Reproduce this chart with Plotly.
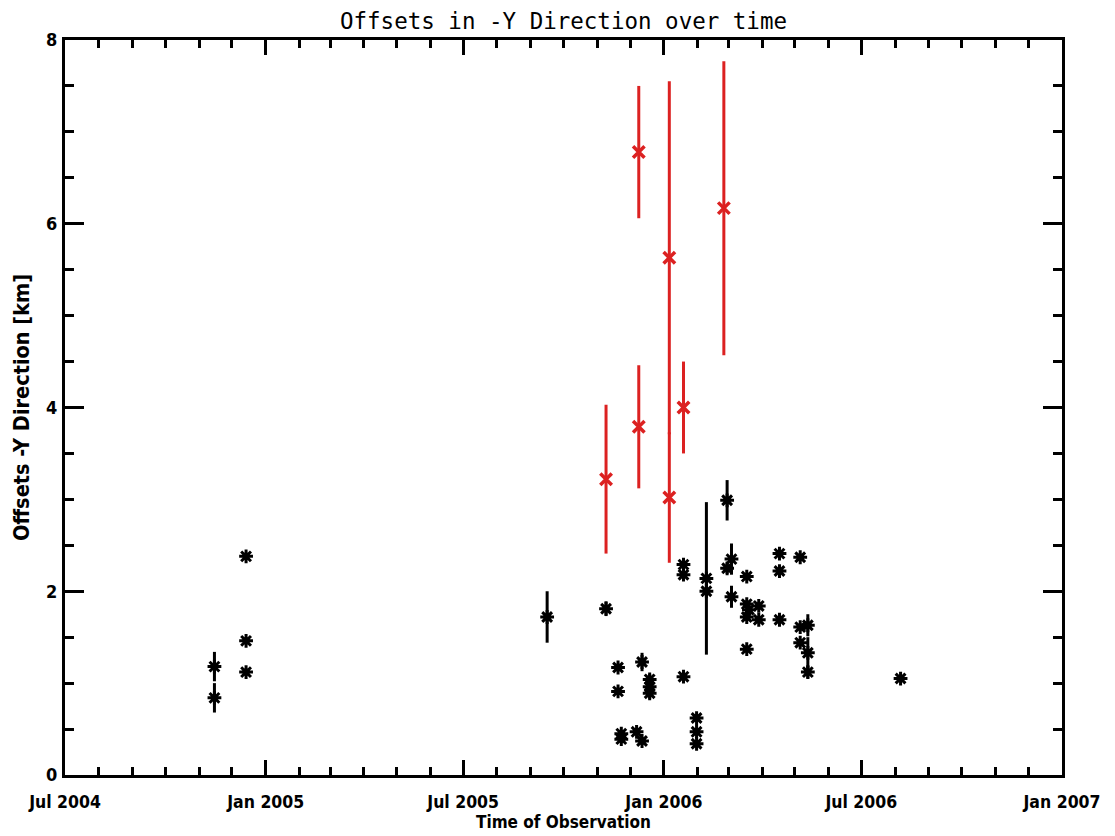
import plotly.graph_objects as go

# Black (normal) observations
black_dates = ["2004-11-15", "2004-11-15", "2004-12-14", "2004-12-14", "2004-12-14",
               "2005-09-16", "2005-11-09", "2005-11-20", "2005-11-20", "2005-11-23",
               "2005-11-23", "2005-12-07", "2005-12-12", "2005-12-12", "2005-12-19",
               "2005-12-19", "2005-12-19", "2006-01-19", "2006-01-19", "2006-01-19",
               "2006-01-31", "2006-01-31", "2006-01-31", "2006-02-09", "2006-02-09",
               "2006-02-28", "2006-02-28", "2006-03-04", "2006-03-04", "2006-03-18",
               "2006-03-18", "2006-03-20", "2006-03-18", "2006-03-18", "2006-03-29",
               "2006-03-29", "2006-04-17", "2006-04-17", "2006-04-17", "2006-05-06",
               "2006-05-06", "2006-05-06", "2006-05-13", "2006-05-13", "2006-05-13",
               "2006-08-06"]
black_values = [1.18, 0.84, 2.38, 1.46, 1.12,
                1.72, 1.81, 1.17, 0.91, 0.45,
                0.39, 0.47, 0.37, 1.23, 1.04,
                0.96, 0.89, 2.29, 2.18, 1.07,
                0.62, 0.47, 0.34, 2.14, 2.00,
                2.99, 2.25, 2.35, 1.94, 2.16,
                1.86, 1.80, 1.72, 1.37, 1.84,
                1.69, 2.41, 2.22, 1.69, 2.37,
                1.61, 1.44, 1.63, 1.33, 1.12,
                1.05]
black_errors = [0.16, 0.16, 0.03, 0.03, 0.03,
                0.28, 0.08, 0.04, 0.04, 0.04,
                0.04, 0.03, 0.03, 0.10, 0.06,
                0.06, 0.06, 0.04, 0.04, 0.03,
                0.04, 0.04, 0.04, 0.83, 0.05,
                0.22, 0.06, 0.17, 0.12, 0.03,
                0.04, 0.04, 0.04, 0.03, 0.03,
                0.03, 0.03, 0.03, 0.03, 0.03,
                0.03, 0.03, 0.12, 0.17, 0.07,
                0.03]

# Red (flagged) observations
red_dates = ["2005-11-09", "2005-12-09", "2005-12-09", "2006-01-06", "2006-01-06",
             "2006-01-19", "2006-02-25"]
red_values = [3.22, 6.78, 3.79, 5.63, 3.02, 4.00, 6.17]
red_errors = [0.81, 0.72, 0.67, 1.92, 0.71, 0.50, 1.60]

y_tick_vals = [0, 2, 4, 6, 8]
y_tick_text = ["0", "2", "4", "6", "8"]

RED = "#dc2121"
LABEL_FONT = "Liberation Sans Narrow, DejaVu Sans Condensed, Liberation Sans, sans-serif"
TITLE_FONT = "DejaVu Sans Mono, monospace"

fig = go.Figure()

fig.add_trace(go.Scatter(
    x=black_dates, y=black_values, mode="markers",
    marker=dict(symbol="asterisk-open", size=11.5, color="black",
                line=dict(color="black", width=3)),
    error_y=dict(type="data", array=black_errors, visible=True,
                 color="black", thickness=3, width=0),
    showlegend=False, cliponaxis=False,
))

fig.add_trace(go.Scatter(
    x=red_dates, y=red_values, mode="markers",
    marker=dict(symbol="x-thin-open", size=11.5, color=RED,
                line=dict(color=RED, width=3.5)),
    error_y=dict(type="data", array=red_errors, visible=True,
                 color=RED, thickness=3, width=0),
    showlegend=False, cliponaxis=False,
))

fig.update_layout(
    width=1115, height=836,
    margin=dict(l=54, r=61, t=32, b=69),
    paper_bgcolor="white", plot_bgcolor="white",
    font=dict(family=LABEL_FONT, color="black", size=17, weight="bold"),
    title=dict(text="Offsets in -Y Direction over time", x=0.5, xanchor="center",
               xref="paper", y=0.984, yanchor="middle",
               font=dict(size=22.5, family=TITLE_FONT, weight="normal")),
    showlegend=False,
)

fig.update_xaxes(
    type="date", range=["2004-07-01", "2007-01-01"],
    tick0="2004-07-01", dtick="M6", tickformat="%b %Y",
    ticks="inside", ticklen=15, tickwidth=3, tickcolor="black",
    minor=dict(dtick="M1", ticks="inside", ticklen=8, tickwidth=2.5, tickcolor="black", showgrid=False),
    showline=True, linewidth=3, linecolor="black", mirror="allticks",
    showgrid=False, zeroline=False,
    tickfont=dict(size=17.5, family=LABEL_FONT, weight="bold"), ticklabelstandoff=9,
    title=dict(text="Time of Observation", font=dict(size=17, family=LABEL_FONT, weight="bold"), standoff=0),
)

fig.update_yaxes(
    range=[0, 8], tickvals=y_tick_vals, ticktext=y_tick_text,
    ticks="inside", ticklen=19, tickwidth=3, tickcolor="black",
    minor=dict(dtick=0.5, tick0=0, ticks="inside", ticklen=9, tickwidth=2.5, tickcolor="black", showgrid=False),
    showline=True, linewidth=3, linecolor="black", mirror="allticks",
    showgrid=False, zeroline=False,
    tickfont=dict(size=18, family=LABEL_FONT, weight="bold"), ticklabelstandoff=1,
    title=dict(text="Offsets -Y Direction [km]", font=dict(size=21.5, family=LABEL_FONT, weight="bold"), standoff=11),
)

fig.write_html("out.html")
